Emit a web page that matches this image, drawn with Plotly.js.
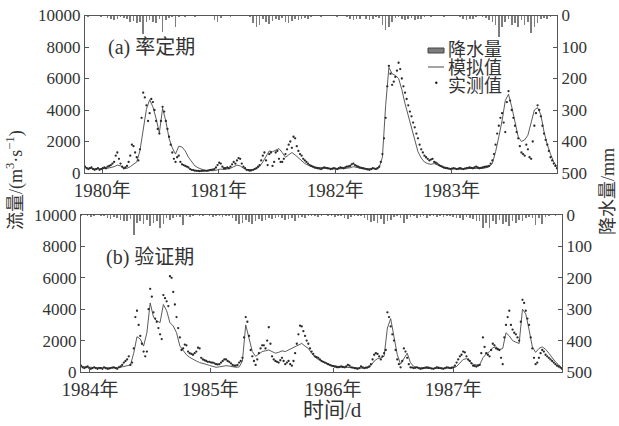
<!DOCTYPE html>
<html><head><meta charset="utf-8">
<script src="https://cdn.plot.ly/plotly-3.0.1.min.js"></script>
<style>html,body{margin:0;padding:0;background:#fff}#chart{width:619px;height:426px}</style>
</head><body><div id="chart"></div>
<script>
// sampling steps (days since start of each 4-year period)
const simStep = 10;
const obsStep = 5;
const rainStep = 10;

// (a) calibration period 1980-1983
const calTickDays = [53, 413, 774, 1134];
const calTickText = ['1980年', '1981年', '1982年', '1983年'];
const calSim = [350,300,280,270,260,260,280,300,330,400,
 500,450,300,300,400,550,700,1420,2780,4050,
 4650,4200,3450,2550,4100,3300,2200,1600,1200,1700,
 1650,1400,1000,700,450,330,230,170,150,140,
 150,200,250,220,250,300,400,500,450,300,
 220,200,220,280,400,700,1100,1400,1350,1450,
 1550,1300,1000,1150,1300,1150,950,750,600,500,
 400,370,350,320,300,280,270,260,260,270,
 280,300,330,400,350,300,270,260,260,270,
 290,350,1000,4300,6700,6300,6200,6000,5300,4400,
 3600,2800,2000,1350,950,700,600,550,600,500,
 400,330,300,280,260,250,250,260,280,300,
 300,290,280,300,330,400,600,1350,2300,3300,
 4600,5000,4200,3200,2300,2000,2100,2400,3200,4000,
 4150,3700,2600,1800,1200,700,400];
const calObs = [400,300,250,300,350,250,200,250,300,200,
 250,300,350,300,400,450,500,600,700,1100,
 1300,900,600,400,300,350,450,700,1100,1800,
 1700,1300,1000,800,1500,3500,5100,4800,4300,3300,
 3800,4700,4500,4000,3300,2800,2500,3300,4200,3900,
 3300,2800,2300,1800,1300,900,700,1000,1100,700,
 550,500,450,400,350,250,200,180,150,140,
 130,120,130,140,150,140,150,180,200,220,
 250,350,500,650,600,400,300,300,350,300,
 400,550,700,600,800,950,900,600,400,300,
 200,180,150,170,200,250,300,400,500,800,
 1100,1300,800,500,1200,1300,450,700,1300,1400,
 900,700,700,900,1200,1500,1800,2000,1600,2300,
 2200,1700,1400,1200,1100,900,800,700,600,500,
 450,400,350,320,300,280,250,300,350,320,
 300,280,250,270,300,280,250,300,350,330,
 300,350,400,420,450,550,600,500,450,400,
 350,320,300,280,250,230,200,250,300,280,
 250,300,400,700,1200,2200,3500,5500,6800,6300,
 5600,5800,6100,6500,7000,6600,6000,5500,5100,4700,
 4300,3900,3600,3200,2900,2500,2200,1800,1500,1300,
 1100,1000,900,800,850,900,700,650,600,500,
 450,400,350,320,300,280,250,270,300,280,
 250,270,300,280,250,280,300,330,350,320,
 300,350,400,350,300,320,350,380,400,420,
 450,600,800,1200,1800,2500,3000,3500,3800,3200,
 2600,4500,5200,4600,4000,3500,3000,2600,2200,1700,
 1300,1200,1100,1800,1500,1000,900,2000,3000,3800,
 4300,4000,3600,3000,2500,2100,1800,1400,1000,800,
 600,450,300];
const calRain = [3,5,0,2,0,5,3,8,12,15,
 10,4,8,12,20,18,25,22,58,20,
 15,22,25,12,53,15,8,6,37,5,
 3,6,2,0,4,2,0,0,3,2,
 15,20,8,2,0,5,3,2,0,3,
 2,5,25,35,30,12,20,28,18,10,
 15,8,20,25,18,10,15,12,8,10,
 5,3,2,5,0,3,2,0,4,2,
 0,5,12,15,10,12,3,10,15,12,
 5,8,30,47,35,20,8,5,10,15,
 12,8,15,10,12,5,3,5,2,0,
 3,5,2,0,3,2,5,10,15,12,
 10,5,3,5,8,15,20,30,68,35,
 20,12,30,25,35,15,30,20,55,35,
 25,10,8,12,5,3,2];

// (b) validation period 1984-1987
const valTickDays = [27, 392, 765, 1130];
const valTickText = ['1984年', '1985年', '1986年', '1987年'];
const valSim = [350,320,300,300,280,270,260,260,250,250,
 260,280,300,350,400,450,1200,2250,2100,1650,
 2500,4400,3500,3250,3150,4300,3900,3140,2930,2500,
 1660,1350,1100,930,800,700,600,520,490,420,
 350,300,330,380,400,380,330,300,320,700,
 3000,2200,1300,1000,1150,1300,1350,1400,1300,1200,
 1250,1350,1300,1400,1500,1600,1750,1820,1650,1500,
 1200,950,800,700,600,500,420,380,350,330,
 300,290,280,260,250,250,240,250,400,700,
 850,900,1000,2800,3400,2250,1100,500,900,1200,
 600,350,280,250,240,230,230,220,230,230,
 240,240,250,260,350,550,800,850,700,500,
 450,450,900,1150,1300,1550,1600,1420,1500,2500,
 2300,2000,1900,1820,4000,3700,2700,1600,1250,1500,
 1600,1450,1200,900,650,450,250];
const valObs = [400,300,250,300,350,250,200,250,300,250,
 200,250,250,200,300,250,200,220,250,280,
 300,250,200,300,350,450,600,700,800,1000,
 450,600,1500,3500,3900,3000,2300,1800,1300,1000,
 1300,4000,5300,4800,3800,3400,3200,2800,2400,2100,
 4900,4700,4500,4200,6100,6000,5100,4300,3500,2800,
 2200,1400,1500,1750,1700,1300,1200,1150,1100,1200,
 1300,1550,1500,900,800,750,700,650,650,600,
 600,550,500,480,500,600,700,800,800,700,
 650,550,450,400,400,450,600,700,900,2200,
 3500,3200,2300,1400,1000,700,450,800,1200,1500,
 1700,1700,1500,2000,2850,1800,1000,800,700,650,
 600,750,900,700,500,600,700,500,400,700,
 1200,1800,2400,2950,2900,2600,2300,2000,1800,1500,
 1300,1150,1000,950,900,800,700,650,600,550,
 500,450,400,380,350,320,300,320,350,320,
 300,350,450,400,300,280,250,230,200,250,
 350,300,250,280,300,350,500,800,1100,1200,
 1150,1000,800,1000,1200,1400,3800,3500,2900,2400,
 2000,1400,800,500,300,700,1500,1300,900,500,
 300,280,250,270,300,250,200,230,250,280,
 300,270,250,220,200,250,300,270,250,230,
 200,250,300,280,250,270,300,400,600,800,
 1000,1100,1300,1250,1000,800,700,550,400,380,
 350,400,450,1200,2200,1600,1200,1100,1000,1400,
 1800,1700,1500,1450,1400,900,500,2200,3000,3500,
 3900,3000,2700,2500,2400,2200,2000,3200,4600,4400,
 3900,3400,3000,2200,1500,900,500,600,900,1200,
 1400,1300,1100,1000,900,800,700,600,500,400,
 350,280,200];
const valRain = [2,0,3,5,2,0,4,3,8,12,
 5,10,15,20,18,12,64,25,20,30,
 15,35,25,20,41,30,10,15,8,5,
 6,32,3,5,2,0,3,2,0,3,
 5,2,3,6,4,2,8,20,28,25,
 15,22,30,18,12,20,15,10,12,8,
 5,10,15,12,8,20,10,5,8,3,
 2,3,5,2,0,3,2,5,3,2,
 8,12,5,3,2,4,8,15,22,18,
 25,12,28,20,15,5,3,10,25,12,
 5,3,8,5,3,10,4,2,6,3,
 5,2,3,5,8,10,15,5,8,12,
 20,18,40,25,42,20,30,15,28,22,
 35,18,25,15,20,8,5,10,32,8,
 30,5,2,0,3,0,0];

const flowTicks = [0, 2000, 4000, 6000, 8000, 10000];
const rainTicks = [0, 100, 200, 300, 400, 500];

const days = (arr, step) => arr.map((_, i) => i * step);

const W = 619, H = 426;
const px = v => v / W;
const py = v => (H - v) / H;

const F = '"Liberation Serif", "Times New Roman", "Noto Sans CJK SC", serif';
const INK = '#333';
const LINE = '#555';

function traces(sim, obs, rain, xa, ya, ya2) {
  return [
    {type: 'bar', x: days(rain, rainStep), y: rain, xaxis: xa, yaxis: ya2, width: 5,
     marker: {color: '#7d7d7d', line: {width: 0}}, name: '降水量'},
    {type: 'scatter', mode: 'lines', x: days(sim, simStep), y: sim, xaxis: xa, yaxis: ya,
     line: {color: '#4a4a4a', width: 0.9}, name: '模拟值'},
    {type: 'scatter', mode: 'markers', x: days(obs, obsStep), y: obs, xaxis: xa, yaxis: ya,
     marker: {color: '#2a2a2a', size: 2.3}, name: '实测值'}
  ];
}

const data = [
  ...traces(calSim, calObs, calRain, 'x', 'y', 'y2'),
  ...traces(valSim, valObs, valRain, 'x2', 'y3', 'y4')
];

const base = {showline: true, linecolor: LINE, linewidth: 1, zeroline: false, showgrid: false,
  ticks: 'inside', ticklen: 4, tickcolor: LINE, tickformat: 'd', tickfont: {family: F, size: 17, color: INK}};

const xBase = Object.assign({}, base, {mirror: true, range: [0, 1460], tickfont: {family: F, size: 19, color: INK}});
const yFlow = Object.assign({}, base, {mirror: true, range: [0, 10000], tickvals: flowTicks});
const yRain = Object.assign({}, base, {side: 'right', range: [500, 0], tickvals: rainTicks});

const ann = (text, x, y, size, extra) => Object.assign({text, x: px(x), y: py(y), xref: 'paper', yref: 'paper',
  xanchor: 'left', yanchor: 'middle', showarrow: false, font: {family: F, size, color: INK}}, extra || {});

const layout = {
  width: W, height: H, margin: {l: 0, r: 0, t: 0, b: 0},
  paper_bgcolor: '#fff', plot_bgcolor: '#fff', showlegend: false, bargap: 0,
  xaxis: Object.assign({}, xBase, {domain: [px(85), px(557)], anchor: 'y', tickvals: calTickDays, ticktext: calTickText}),
  yaxis: Object.assign({}, yFlow, {domain: [py(173), py(15.5)], anchor: 'x'}),
  yaxis2: Object.assign({}, yRain, {overlaying: 'y', anchor: 'x'}),
  xaxis2: Object.assign({}, xBase, {domain: [px(81), px(562)], anchor: 'y3', tickvals: valTickDays, ticktext: valTickText}),
  yaxis3: Object.assign({}, yFlow, {domain: [py(372), py(215)], anchor: 'x2'}),
  yaxis4: Object.assign({}, yRain, {overlaying: 'y3', anchor: 'x2'}),
  annotations: [
    ann('(a) 率定期', 106, 48, 20),
    ann('(b) 验证期', 104, 257, 20),
    ann('流量/(m<sup>3</sup>·s<sup>−1</sup>)', 15, 180, 18, {xanchor: 'center', textangle: -90}),
    ann('降水量/mm', 608, 192, 18, {xanchor: 'center', textangle: -90}),
    ann('时间/d', 332, 410, 21, {xanchor: 'center'}),
    ann('降水量', 446, 50, 18),
    ann('模拟值', 446, 68, 18),
    ann('实测值', 446, 86, 18)
  ],
  shapes: [
    {type: 'rect', xref: 'paper', yref: 'paper', x0: px(428), x1: px(444), y0: py(53), y1: py(48), fillcolor: '#7d7d7d', line: {color: '#444', width: 1}},
    {type: 'line', xref: 'paper', yref: 'paper', x0: px(428), x1: px(444), y0: py(67), y1: py(67), line: {color: '#4a4a4a', width: 1}},
    {type: 'circle', xref: 'paper', yref: 'paper', x0: px(435), x1: px(437.5), y0: py(84), y1: py(81.5), fillcolor: '#222', line: {width: 0}}
  ]
};

Plotly.newPlot('chart', data, layout, {staticPlot: true, displayModeBar: false});
</script>
</body></html>
